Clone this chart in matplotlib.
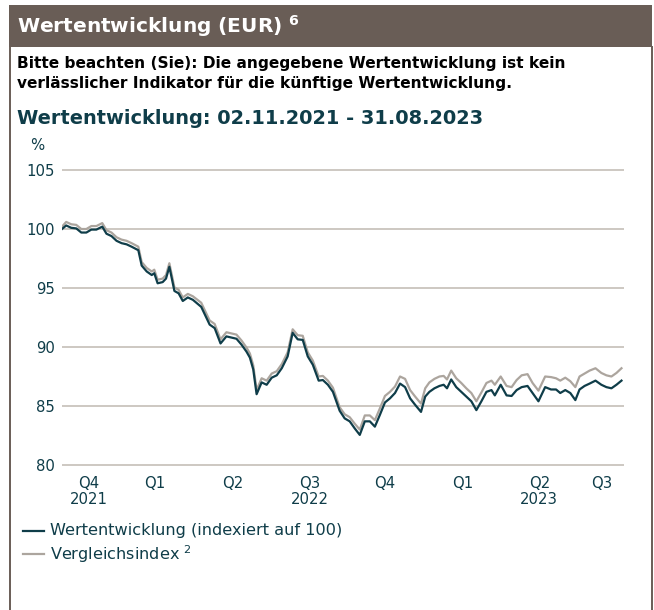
import pandas as pd
import matplotlib
matplotlib.use('Agg')
import matplotlib.pyplot as plt
from matplotlib.lines import Line2D
from matplotlib.patches import Rectangle

# days since 02.11.2021
days = [0, 5, 11, 17, 23, 29, 35, 41, 48, 53, 59, 65, 71, 77, 83, 91, 95, 101, 107, 110,
        114, 120, 124, 128, 134, 139, 144, 150, 156, 166, 172, 176, 182, 189, 196, 202, 208, 214, 220, 224,
        228, 232, 238, 244, 250, 256, 262, 269, 275, 281, 287, 293, 299, 306, 311, 317, 323, 331, 337, 343,
        349, 355, 361, 367, 373, 379, 385, 391, 397, 403, 409, 415, 421, 428, 433, 438, 444, 450, 455, 459,
        464, 470, 476, 482, 488, 494, 500, 506, 512, 516, 523, 530, 536, 542, 548, 555, 561, 568, 576, 583,
        589, 594, 600, 606, 612, 617, 623, 629, 636, 643, 649, 655, 661, 667]

fund = [100.0, 100.3, 100.1, 100.05, 99.7, 99.7, 99.95, 99.95, 100.2, 99.6, 99.4, 99.0, 98.8, 98.7, 98.5, 98.2, 96.9, 96.4, 96.1, 96.25,
        95.4, 95.5, 95.8, 96.8, 94.75, 94.55, 93.9, 94.2, 94.0, 93.4, 92.5, 91.9, 91.6, 90.3, 90.9, 90.8, 90.7, 90.2, 89.6, 89.1,
        88.1, 86.0, 87.0, 86.8, 87.4, 87.6, 88.2, 89.2, 91.2, 90.65, 90.6, 89.2, 88.5, 87.15, 87.2, 86.8, 86.2, 84.6, 83.95, 83.7,
        83.1, 82.55, 83.7, 83.7, 83.25, 84.25, 85.3, 85.65, 86.1, 86.9, 86.6, 85.65, 85.1, 84.5, 85.8, 86.2, 86.5, 86.7, 86.8, 86.5,
        87.25, 86.6, 86.2, 85.8, 85.4, 84.65, 85.4, 86.2, 86.35, 85.9, 86.8, 85.9, 85.85, 86.35, 86.6, 86.7, 86.1, 85.4, 86.6, 86.4,
        86.4, 86.1, 86.35, 86.1, 85.5, 86.4, 86.7, 86.9, 87.15, 86.8, 86.6, 86.5, 86.8, 87.15]

bench = [100.2, 100.6, 100.4, 100.35, 100.0, 100.0, 100.25, 100.25, 100.5, 99.9, 99.7, 99.3, 99.1, 99.0, 98.8, 98.5, 97.2, 96.7, 96.4, 96.55,
         95.7, 95.8, 96.1, 97.1, 95.05, 94.85, 94.2, 94.5, 94.3, 93.75, 92.85, 92.25, 91.95, 90.65, 91.25, 91.15, 91.05, 90.55, 89.95, 89.45,
         88.45, 86.35, 87.35, 87.15, 87.75, 87.95, 88.55, 89.55, 91.5, 91.0, 90.95, 89.55, 88.85, 87.5, 87.55, 87.15, 86.55, 84.9, 84.3, 84.05,
         83.5, 83.0, 84.2, 84.2, 83.8, 84.8, 85.85, 86.2, 86.65, 87.5, 87.3, 86.35, 85.8, 85.2, 86.5, 87.0, 87.3, 87.5, 87.55, 87.25,
         88.0, 87.35, 86.95, 86.5, 86.1, 85.4, 86.15, 86.95, 87.15, 86.8, 87.5, 86.7, 86.6, 87.2, 87.6, 87.7, 86.95, 86.3, 87.5, 87.45,
         87.35, 87.15, 87.4, 87.1, 86.6, 87.5, 87.75, 88.0, 88.2, 87.8, 87.6, 87.5, 87.8, 88.2]

quarter_pos = ['2021-12-04', '2022-02-21', '2022-05-24', '2022-08-24',
               '2022-11-22', '2023-02-23', '2023-05-25', '2023-08-07']
quarter_lab = ['Q4\n2021', 'Q1', 'Q2', 'Q3\n2022', 'Q4', 'Q1', 'Q2\n2023', 'Q3']
yticks = [80, 85, 90, 95, 100, 105]

W, H = 654, 610
teal = '#0f3d49'
grey_line = '#aca59e'
grid_col = '#cdc8c2'
brown = '#695d56'

plt.rcParams['font.family'] = ['DejaVu Sans']
plt.rcParams['mathtext.fontset'] = 'dejavusans'


def fx(px):
    return px / W


def fy(py):
    return 1 - py / H


fig = plt.figure(figsize=(W / 100, H / 100), dpi=100)
fig.patch.set_facecolor('white')

# header bar and box outline
fig.add_artist(Rectangle((fx(9), fy(47)), fx(652) - fx(9), fy(5) - fy(47),
                         transform=fig.transFigure, color=brown, lw=0))
fig.add_artist(Line2D([fx(9.5), fx(9.5)], [fy(47), 0], transform=fig.transFigure, color=brown, lw=1.4))
fig.add_artist(Line2D([fx(651.5), fx(651.5)], [fy(47), 0], transform=fig.transFigure, color=brown, lw=1.4))

fig.text(fx(17), fy(32.5), r'Wertentwicklung (EUR) $^{\mathbf{6}}$', color='white', weight='bold',
         size=14.5, va='baseline')
fig.text(fx(17), fy(68), 'Bitte beachten (Sie): Die angegebene Wertentwicklung ist kein',
         color='black', weight='bold', size=11.1, va='baseline')
fig.text(fx(17), fy(88), 'verlässlicher Indikator für die künftige Wertentwicklung.',
         color='black', weight='bold', size=11.1, va='baseline')
fig.text(fx(17), fy(124), 'Wertentwicklung: 02.11.2021 - 31.08.2023', color=teal, weight='bold',
         size=13.95, va='baseline')
fig.text(fx(37), fy(146), '%', color=teal, size=10.7, ha='center', va='center')

# plot area
y0, y1 = 79.8, 105.2
ppu = (465 - 170) / 25.0
ax = fig.add_axes([fx(62), fy(465 + 0.2 * ppu), fx(624) - fx(62), fy(170 - 0.2 * ppu) - fy(465 + 0.2 * ppu)])
ax.set_facecolor('none')

start = pd.Timestamp('2021-11-02')
dates = start + pd.to_timedelta(days, unit='D')

l2, = ax.plot(dates, bench, color=grey_line, lw=1.6, solid_joinstyle='round')
l1, = ax.plot(dates, fund, color=teal, lw=1.6, solid_joinstyle='round')

ax.set_ylim(y0, y1)
ax.set_xlim(start, start + pd.Timedelta(days=670))
ax.set_yticks(yticks)
ax.set_yticklabels([str(v) for v in yticks])
ax.set_xticks(pd.to_datetime(quarter_pos))
ax.set_xticklabels(quarter_lab)
ax.tick_params(axis='both', length=0, colors=teal, labelsize=10.7)
ax.tick_params(axis='y', pad=5)
ax.tick_params(axis='x', pad=6)
for lab in ax.get_xticklabels():
    lab.set_linespacing(1.1)
ax.grid(axis='y', color=grid_col, lw=1.4)
ax.grid(axis='x', visible=False)
ax.set_axisbelow(True)
for s in ax.spines.values():
    s.set_visible(False)

# legend drawn by hand
for ln, lab, py in [(l1, 'Wertentwicklung (indexiert auf 100)', 531),
                    (l2, r'Vergleichsindex $^{2}$', 554)]:
    fig.add_artist(Line2D([fx(23), fx(44)], [fy(py), fy(py)], transform=fig.transFigure,
                          color=ln.get_color(), lw=1.6))
    fig.text(fx(50), fy(py), lab, color=teal, size=11.6, va='center')

fig.savefig('out.png', dpi=100)
